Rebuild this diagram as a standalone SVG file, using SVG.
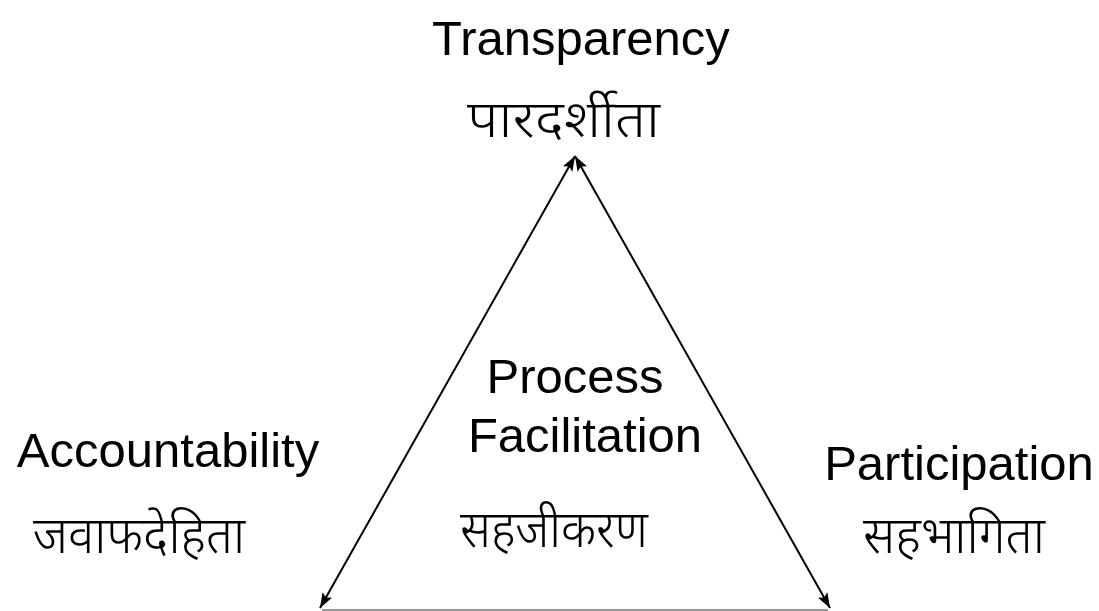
<svg xmlns="http://www.w3.org/2000/svg" width="1099" height="611" viewBox="0 0 1099 611">
<style>
.en{font-family:"Liberation Sans",Arial,sans-serif;font-size:49px;fill:#000}
.hi{font-family:"Noto Sans Devanagari","Noto Sans","Noto Serif Devanagari",sans-serif;font-size:52px;font-weight:300;fill:#000}
.edge{stroke:#000;stroke-width:2;fill:none}
</style>
<defs>
<marker id="ah" viewBox="0 0 15 11" refX="15" refY="5.5" markerWidth="15" markerHeight="11" markerUnits="userSpaceOnUse" orient="auto-start-reverse">
<path d="M0,0 L15,5.5 L0,11 L3,5.5 z" fill="#000"/>
</marker>
</defs>
<rect width="1099" height="611" fill="#fff"/>
<g id="connectors">
<line class="edge" x1="575" y1="156" x2="320" y2="608" marker-start="url(#ah)" marker-end="url(#ah)"/>
<line class="edge" x1="575" y1="156" x2="830" y2="608" marker-start="url(#ah)" marker-end="url(#ah)"/>
<line x1="322" y1="610" x2="828" y2="610" stroke="#999" stroke-width="2"/>
</g>
<g id="transparency">
<text class="en" x="581" y="55" text-anchor="middle">Transparency</text>
<text class="hi" x="467" y="137" textLength="193" lengthAdjust="spacingAndGlyphs">पारदर्शीता</text>
</g>
<g id="accountability">
<text class="en" x="168" y="467" text-anchor="middle" font-size="50">Accountability</text>
<text class="hi" x="33" y="553" textLength="212" lengthAdjust="spacingAndGlyphs">जवाफदेहिता</text>
</g>
<g id="participation">
<text class="en" x="959" y="480" text-anchor="middle">Participation</text>
<text class="hi" x="863" y="553" textLength="182" lengthAdjust="spacingAndGlyphs">सहभागिता</text>
</g>
<g id="process-facilitation">
<text class="en" x="575" y="393" text-anchor="middle">Process</text>
<text class="en" x="585" y="452" text-anchor="middle">Facilitation</text>
<text class="hi" x="460" y="547" textLength="188" lengthAdjust="spacingAndGlyphs">सहजीकरण</text>
</g>
</svg>
